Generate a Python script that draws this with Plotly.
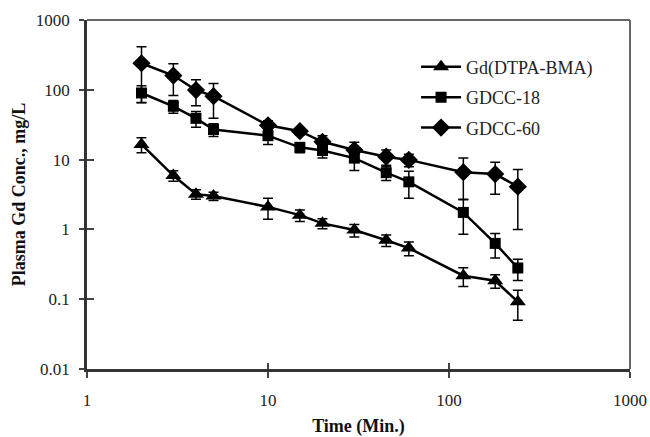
import plotly.graph_objects as go

# ---- data ----
time_min = [2, 3, 4, 5, 10, 15, 20, 30, 45, 60, 120, 180, 240]

gd_dtpa_bma = [16.5, 5.9, 3.2, 3.0, 2.1, 1.6, 1.22, 0.98, 0.70, 0.54, 0.217, 0.184, 0.092]
gd_dtpa_bma_err = [4.0, 1.0, 0.5, 0.4, 0.7, 0.3, 0.2, 0.2, 0.13, 0.12, 0.065, 0.04, 0.042]

gdcc_18 = [90, 58, 39, 27, 22, 15, 13.5, 10.5, 6.5, 4.8, 1.75, 0.63, 0.28]
gdcc_18_err = [24, 12, 10, 5.5, 5.5, 2.5, 3.0, 3.5, 1.5, 2.0, 0.9, 0.24, 0.095]

gdcc_60 = [240, 160, 99, 81, 31, 25.5, 18, 13.7, 11, 9.9, 6.6, 6.2, 4.1]
gdcc_60_err = [175, 77, 40, 42, 5, 3, 4, 4, 2.7, 2, 3.9, 3.0, 3.1]

x_tickvals = [1, 10, 100, 1000]
x_ticktext = ["1", "10", "100", "1000"]
y_tickvals = [0.01, 0.1, 1, 10, 100, 1000]
y_ticktext = ["0.01", "0.1", "1", "10", "100", "1000"]

series = [
    ("Gd(DTPA-BMA)", gd_dtpa_bma, gd_dtpa_bma_err, "triangle-up", 14),
    ("GDCC-18", gdcc_18, gdcc_18_err, "square", 11),
    ("GDCC-60", gdcc_60, gdcc_60_err, "diamond", 14),
]

FONT = "Liberation Serif, Times New Roman, serif"

fig = go.Figure()
for name, vals, errs, sym, size in series:
    fig.add_trace(go.Scatter(
        x=time_min, y=vals, name=name, mode="lines+markers",
        legendgroup=name,
        line=dict(color="black", width=2.5),
        marker=dict(symbol=sym, size=size, color="black"),
        error_y=dict(type="data", array=errs, visible=True,
                     color="black", thickness=1.5, width=5),
    ))

# dummy trace to materialise the overlay axes (for inward tick halves)
fig.add_trace(go.Scatter(x=[10], y=[1], xaxis="x2", yaxis="y2",
                         mode="markers", marker=dict(opacity=0),
                         showlegend=False, hoverinfo="skip"))

axis_common = dict(showgrid=False, zeroline=False, automargin=False)

fig.update_layout(
    width=650, height=437,
    margin=dict(l=87, r=20, t=20, b=68),
    paper_bgcolor="white", plot_bgcolor="white",
    font=dict(family=FONT, size=17, color="#222"),
    showlegend=True,
    legend=dict(x=0.606, y=0.918, xanchor="left", yanchor="top",
                bgcolor="rgba(0,0,0,0)", font=dict(size=18, color="#222"),
                itemwidth=40, tracegroupgap=4),
    xaxis=dict(type="log", range=[0, 3], tickvals=x_tickvals, ticktext=x_ticktext,
               ticks="outside", ticklen=6, tickwidth=1.5, tickcolor="#444",
               ticklabelstandoff=8,
               showline=True, linecolor="#333", linewidth=2.5,
               title=dict(text="<b>Time (Min.)</b>", font=dict(size=18, color="#111"), standoff=13),
               **axis_common),
    yaxis=dict(type="log", range=[-2, 3], tickvals=y_tickvals, ticktext=y_ticktext,
               ticks="outside", ticklen=5, tickwidth=1.5, tickcolor="#444",
               ticklabelstandoff=6,
               showline=True, linecolor="#333", linewidth=2.5,
               title=dict(text="<b>Plasma Gd Conc., mg/L</b>", font=dict(size=18, color="#111"), standoff=6),
               **axis_common),
    xaxis2=dict(type="log", range=[0, 3], overlaying="x", tickvals=x_tickvals,
                ticks="inside", ticklen=6, tickwidth=1.5, tickcolor="#444",
                showticklabels=False, side="bottom", anchor="y2", **axis_common),
    yaxis2=dict(type="log", range=[-2, 3], overlaying="y", tickvals=y_tickvals,
                ticks="inside", ticklen=7, tickwidth=1.5, tickcolor="#444",
                showticklabels=False, side="left", anchor="x2", **axis_common),
    shapes=[
        dict(type="line", xref="paper", yref="paper", x0=0, x1=1, y0=1, y1=1,
             line=dict(color="#666", width=2)),
        dict(type="line", xref="paper", yref="paper", x0=1, x1=1, y0=0, y1=1,
             line=dict(color="#666", width=2)),
    ],
)

# remove the default 8px page margin so the figure fills the 650x437 window exactly
fig.write_html("out.html",
               config={"displayModeBar": False},
               post_script="document.body.style.margin='0';document.body.style.overflow='hidden';")
